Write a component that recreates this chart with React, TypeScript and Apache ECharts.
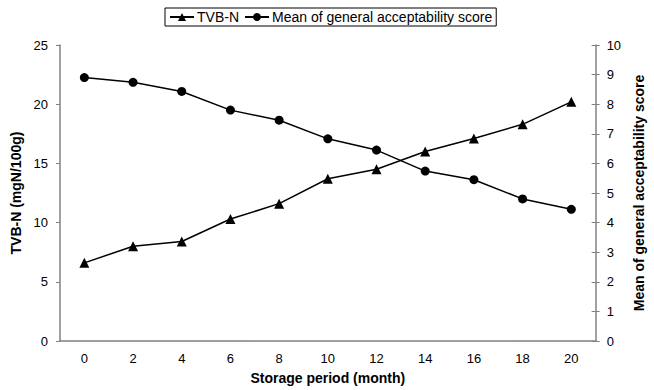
import React, { useEffect, useRef } from "react";
import * as echarts from "echarts";

const months = ["0", "2", "4", "6", "8", "10", "12", "14", "16", "18", "20"];
const tvbn = [6.6, 8.0, 8.4, 10.3, 11.6, 13.7, 14.5, 16.0, 17.1, 18.3, 20.2];
const acceptability = [8.9, 8.74, 8.43, 7.8, 7.46, 6.83, 6.45, 5.74, 5.45, 4.8, 4.45];

const FONT = "'Liberation Sans', Arial, sans-serif";
const AXIS = "#808080";

export default function App() {
  const ref = useRef<HTMLDivElement>(null);
  useEffect(() => {
    if (!ref.current) return;
    const chart = echarts.init(ref.current, null, { renderer: "svg" });
    chart.setOption({
      animation: false,
      textStyle: { fontFamily: FONT, color: "#000" },
      legend: {
        top: 8,
        left: 165,
        padding: [2, 4, 2, 4],
        itemGap: 5,
        itemWidth: 24,
        itemHeight: 10,
        borderColor: "#000",
        borderWidth: 1,
        borderRadius: 0,
        textStyle: { fontFamily: FONT, fontSize: 14, color: "#000", padding: [0, 0, 0, -2] },
        data: ["TVB-N", "Mean of general acceptability score"],
      },
      grid: { left: 60, right: 51, top: 45, bottom: 48, containLabel: false },
      xAxis: {
        type: "category",
        data: months,
        boundaryGap: true,
        name: "Storage period (month)",
        nameLocation: "middle",
        nameGap: 30,
        nameTextStyle: { fontFamily: FONT, fontSize: 14, fontWeight: "bold", color: "#000" },
        axisLine: { lineStyle: { color: AXIS, width: 1.5 } },
        axisTick: { alignWithLabel: false, length: 4, lineStyle: { color: AXIS } },
        axisLabel: { fontFamily: FONT, fontSize: 13, color: "#000", margin: 11 },
      },
      yAxis: [
        {
          type: "value",
          min: 0,
          max: 25,
          interval: 5,
          name: "TVB-N (mgN/100g)",
          nameLocation: "middle",
          nameGap: 36,
          nameTextStyle: { fontFamily: FONT, fontSize: 14, fontWeight: "bold", color: "#000" },
          axisLine: { show: true, lineStyle: { color: AXIS, width: 1.5 } },
          axisTick: { show: true, length: 4, lineStyle: { color: AXIS } },
          axisLabel: { fontFamily: FONT, fontSize: 13, color: "#000", margin: 12 },
          splitLine: { show: false },
        },
        {
          type: "value",
          position: "right",
          min: 0,
          max: 10,
          interval: 1,
          name: "Mean of general acceptability score",
          nameLocation: "middle",
          nameGap: 32,
          nameRotate: 90,
          nameTextStyle: { fontFamily: FONT, fontSize: 14, fontWeight: "bold", color: "#000" },
          axisLine: { show: true, lineStyle: { color: AXIS, width: 1.5 } },
          axisTick: { show: true, length: 4, lineStyle: { color: AXIS } },
          axisLabel: { fontFamily: FONT, fontSize: 13, color: "#000", margin: 11 },
          splitLine: { show: false },
        },
        {
          type: "value",
          position: "right",
          min: 0,
          max: 10,
          interval: 1,
          axisLine: { show: false },
          axisTick: { show: true, inside: true, length: 4, lineStyle: { color: AXIS } },
          axisLabel: { show: false },
          splitLine: { show: false },
        },
      ],
      series: [
        {
          name: "TVB-N",
          type: "line",
          yAxisIndex: 0,
          data: tvbn,
          symbol: "triangle",
          symbolSize: 10,
          lineStyle: { color: "#000", width: 1.5 },
          itemStyle: { color: "#000" },
        },
        {
          name: "Mean of general acceptability score",
          type: "line",
          yAxisIndex: 1,
          data: acceptability,
          symbol: "circle",
          symbolSize: 9,
          lineStyle: { color: "#000", width: 1.5 },
          itemStyle: { color: "#000" },
        },
      ],
    });
    return () => chart.dispose();
  }, []);
  return <div ref={ref} style={{ width: 654, height: 390, position: "absolute", left: 0, top: 0 }} />;
}
